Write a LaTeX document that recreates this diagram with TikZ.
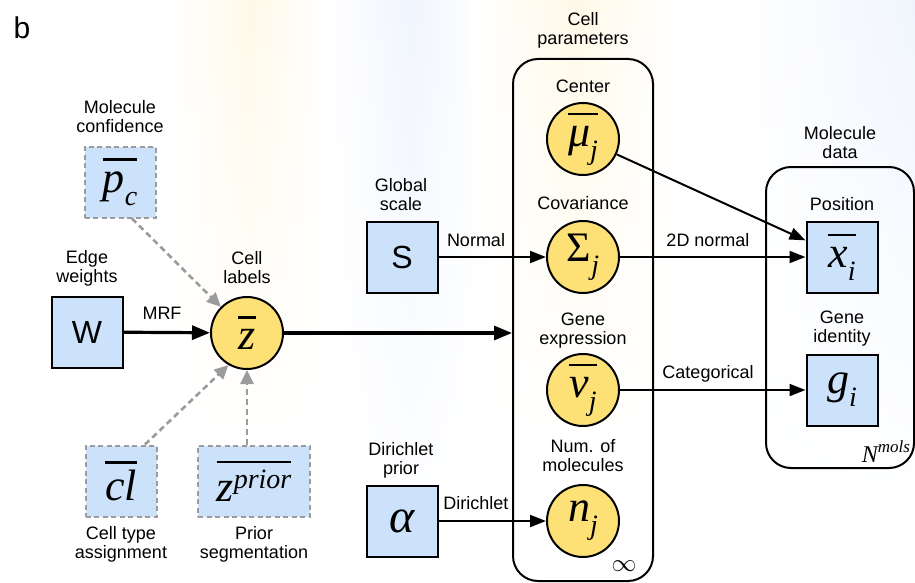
\documentclass[tikz,border=0pt]{standalone}
\usepackage{fontspec}
\setmainfont{Liberation Sans}
\newfontfamily\mvf{Liberation Serif}
\usetikzlibrary{arrows.meta,fadings}
\definecolor{boxblue}{RGB}{204,226,250}
\definecolor{cyel}{RGB}{253,225,118}
\definecolor{dgray}{RGB}{155,155,155}
\definecolor{byel}{RGB}{255,249,232}
\definecolor{bblue}{RGB}{240,245,253}
\newcommand{\mvi}{\mvf\itshape}
\newcommand{\sbs}[1]{\raisebox{-0.3em}{\fontsize{28}{28}\selectfont #1}}
\newcommand{\sps}[1]{\raisebox{0.3em}{\fontsize{28}{28}\selectfont #1}}
\newcommand{\ovl}[2][0.7em]{\setbox0=\hbox{#2}\rlap{\raisebox{#1}{\rule{\wd0}{2.8pt}}}\box0}
\tikzfading[name=vfade, top color=transparent!0, bottom color=transparent!100]
\begin{document}
\begin{tikzpicture}[x=1pt,y=-1pt,
  lbl/.style={font=\fontsize{18}{19}\selectfont, align=center, inner sep=0pt},
  elbl/.style={font=\fontsize{18}{19}\selectfont, inner sep=0pt},
  vbox/.style={draw, line width=2pt, fill=boxblue, minimum width=71pt, minimum height=71pt, inner sep=0pt},
  dbox/.style={draw=dgray, line width=2pt, dash pattern=on 5pt off 3.5pt, fill=boxblue, minimum height=71pt, inner sep=0pt},
  rv/.style={circle, draw, line width=2pt, fill=cyel, minimum size=72pt, inner sep=0pt},
  mathtxt/.style={font=\mvi\fontsize{44}{44}\selectfont},
  plate/.style={draw, line width=2pt, rounded corners=25pt, inner sep=0pt},
  arr/.style={line width=2pt, -{Triangle[length=16pt, width=12pt]}},
  tarr/.style={line width=3.2pt, -{Triangle[length=18pt, width=14pt]}},
  darr/.style={draw=dgray, line width=2.6pt, dash pattern=on 6pt off 4pt, -{Triangle[length=14pt, width=13pt, fill=dgray]}}
]
\useasboundingbox (0,0) rectangle (915,583);
% background bands
\shade[left color=white, right color=white, middle color=byel, path fading=vfade] (170,0) rectangle (330,440);
\shade[left color=white, right color=white, middle color=bblue, path fading=vfade] (330,0) rectangle (490,560);
\shade[left color=white, right color=white, middle color=byel, path fading=vfade] (470,0) rectangle (680,440);
\shade[left color=white, right color=bblue, path fading=vfade] (740,0) rectangle (915,500);

\node[font=\fontsize{30}{30}\selectfont, inner sep=0pt] (b) at (22,28) {b};

% plates
\node[plate, minimum width=140pt, minimum height=522pt] (cp) at (583,320) {};
\node[plate, minimum width=148pt, minimum height=301pt] (md) at (840,317.5) {};
\node[inner sep=0pt, font=\fontsize{34}{34}\selectfont] (inf) at (624,566) {$\infty$};
\node[inner sep=0pt, font=\mvi\fontsize{24}{24}\selectfont] (nm) at (886,452) {N\raisebox{0.42em}{\fontsize{17}{17}\selectfont mols}};

% left nodes
\node[dbox, minimum width=71pt, mathtxt] (pc) at (120,182) {\ovl{p\sbs{c}}};
\node[vbox, font=\fontsize{32}{32}\selectfont] (w) at (87,332) {W};
\node[rv, mathtxt] (z) at (247,333) {\ovl{z}};
\node[dbox, minimum width=71pt, mathtxt] (cl) at (121,481) {\ovl[0.84em]{cl}};
\node[dbox, minimum width=112pt, mathtxt] (zp) at (254,481) {\ovl[0.86em]{z\sps{prior}}};
\node[vbox, font=\fontsize{32}{32}\selectfont] (s) at (402,257) {S};
\node[vbox, font=\mvi\fontsize{48}{48}\selectfont] (al) at (402,521) {α};

% cell parameter nodes
\node[rv, mathtxt] (mu) at (583,139) {\ovl{μ\sbs{j}}};
\node[rv, font=\mvf\fontsize{42}{42}\selectfont] (sig) at (583,257) {Σ\sbs{\itshape j}};
\node[rv, mathtxt] (v) at (583,390) {\ovl{v\sbs{j}}};
\node[rv, mathtxt] (n) at (583,521) {n\sbs{j}};

% molecule data
\node[vbox, mathtxt] (x) at (842,257) {\ovl{x\sbs{i}}};
\node[vbox, mathtxt] (g) at (842,390) {g\sbs{i}};

% text labels
\node[lbl] (lpc) at (120,117) {Molecule\\confidence};
\node[lbl] (lw) at (87,268) {Edge\\weights};
\node[lbl] (lz) at (247,268) {Cell\\labels};
\node[lbl] (lcl) at (121,544) {Cell type\\assignment};
\node[lbl] (lzp) at (254,544) {Prior\\segmentation};
\node[lbl] (ls) at (401,195) {Global\\scale};
\node[lbl] (lal) at (401,460) {Dirichlet\\prior};
\node[lbl] (lcp) at (583,30) {Cell\\parameters};
\node[lbl] (lmu) at (583,86) {Center};
\node[lbl] (lsig) at (583,203) {Covariance};
\node[lbl] (lv) at (583,331) {Gene\\expression};
\node[lbl] (ln) at (583,456) {Num. of\\molecules};
\node[lbl] (lmd) at (840,143) {Molecule\\data};
\node[lbl] (lx) at (842,204) {Position};
\node[lbl] (lg) at (842,329) {Gene\\identity};

% edge labels
\node[elbl] (emrf) at (162,313) {MRF};
\node[elbl] (enorm) at (476,240) {Normal};
\node[elbl] (e2d) at (708,240) {2D normal};
\node[elbl] (ecat) at (708,374) {Categorical};
\node[elbl] (edir) at (476,503) {Dirichlet};

% connectors
\draw[tarr] (w) -- (z);
\draw[tarr] (z) -- (z -| cp.west);
\draw[darr] ([xshift=12pt]pc.south) -- (z.135);
\draw[darr] ([xshift=24pt]cl.north) -- (z.240);
\draw[darr] (z |- zp.north) -- (z.south);
\draw[arr] (s) -- (sig);
\draw[arr] (al) -- (n);
\draw[arr] (mu) -- (x);
\draw[arr] (sig) -- (x);
\draw[arr] (v) -- (g);
\end{tikzpicture}
\end{document}
